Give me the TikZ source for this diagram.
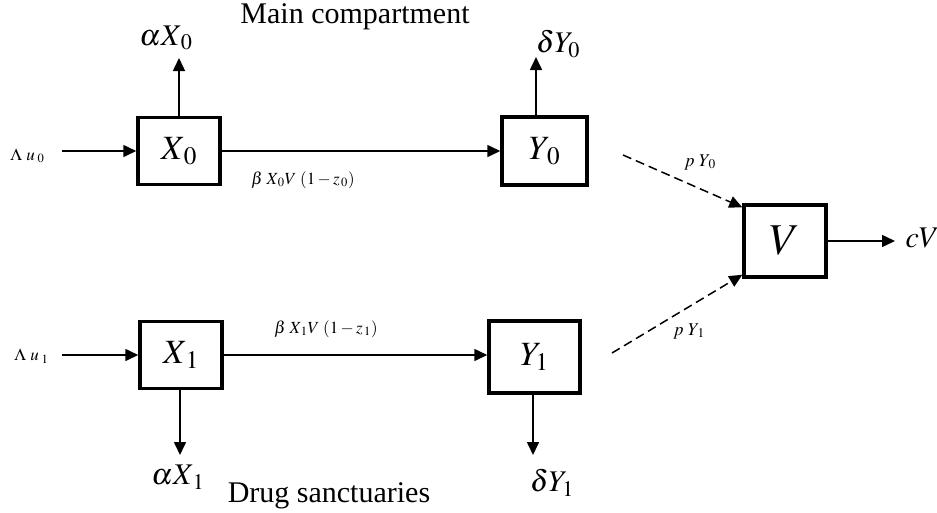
\documentclass[tikz,border=0pt]{standalone}
\usepackage{mathptmx}
\usepackage[no-math]{fontspec}
\setmainfont{Liberation Serif}
\usetikzlibrary{arrows.meta}
\tikzset{
  comp/.style={draw, line width=3.5pt, inner sep=0pt},
  flow/.style={line width=1.6pt, -{Triangle[length=13pt,width=12pt]}},
  dflow/.style={line width=1.5pt, dash pattern=on 9pt off 5pt, -{Triangle[length=13pt,width=12pt]}},
  big/.style={font=\fontsize{34}{38}\selectfont},
  mid/.style={font=\fontsize{30}{34}\selectfont},
  sml/.style={font=\fontsize{17}{20}\selectfont},
  plab/.style={font=\fontsize{18}{21}\selectfont},
  titletext/.style={font=\fontsize{30}{34}\selectfont},
}
\begin{document}
\begin{tikzpicture}[x=1pt,y=-1pt]
\path[use as bounding box] (0,0) rectangle (937,512);
% boxes
\node[comp, big, minimum width=82pt, minimum height=67pt] (X0) at (179,151) {$X_{\,0}$};
\node[comp, big, minimum width=85pt, minimum height=68pt] (Y0) at (544.5,151) {$Y_{\,0}$};
\node[comp, font=\fontsize{44}{48}\selectfont, minimum width=82pt, minimum height=72pt] (V) at (785,241) {$V$};
\node[comp, big, minimum width=82pt, minimum height=67pt] (X1) at (181,355) {$X_{\,1}$};
\node[comp, big, minimum width=91pt, minimum height=72pt] (Y1) at (534.5,357) {$Y_{1}$};
% titles
\node[titletext] (main) at (355,17) {Main compartment};
\node[titletext] (drug) at (329,496) {Drug sanctuaries};
% inflows
\node[sml, anchor=east] (L0) at (48,156) {$\Lambda\ u_{\;0}$};
\node[sml, anchor=east] (L1) at (52,356) {$\Lambda\ u_{\;1}$};
\coordinate (L0s) at (62,151);
\coordinate (L1s) at (62,355);
\draw[flow] (L0s) -- (X0.west);
\draw[flow] (L1s) -- (X1.west);
% infections
\draw[flow] (X0.east) -- (Y0.west |- X0.east);
\draw[flow] (X1.east) -- (Y1.west |- X1.east);
\node[sml] (b0) at (303,180) {$\beta\;X_{\,0}V\;(1-z_{\,0})$};
\node[sml] (b1) at (326,329) {$\beta\;X_{\,1}V\;(1-z_{\,1})$};
% deaths
\coordinate (aX0t) at (179,58);
\draw[flow] (X0.north) -- (aX0t);
\node[mid] (aX0) at (166,38) {$\alpha X_{\,0}$};
\coordinate (dY0t) at (536,57);
\draw[flow] (Y0.north -| dY0t) -- (dY0t);
\node[mid] (dY0) at (558,44) {$\delta Y_{0}$};
\coordinate (aX1t) at (180,455);
\draw[flow] (X1.south -| aX1t) -- (aX1t);
\node[mid] (aX1) at (178,477) {$\alpha X_{\,1}$};
\coordinate (dY1t) at (533,455);
\draw[flow] (Y1.south -| dY1t) -- (dY1t);
\node[mid] (dY1) at (552,483) {$\delta Y_{1}$};
% virus production
\coordinate (p0s) at (623,155);
\coordinate (p1s) at (612,353);
\draw[dflow] (p0s) -- ([yshift=-4pt]V.north west);
\draw[dflow] (p1s) -- ([yshift=4pt]V.south west);
\node[plab] (pY0) at (700,162) {$p\ Y_{\,0}$};
\node[plab] (pY1) at (689,331) {$p\ Y_{\,1}$};
% clearance
\coordinate (cVt) at (895,241);
\draw[flow] (V.east) -- (cVt);
\node[mid, anchor=west] (cV) at (902,238) {$cV$};
\end{tikzpicture}
\end{document}
